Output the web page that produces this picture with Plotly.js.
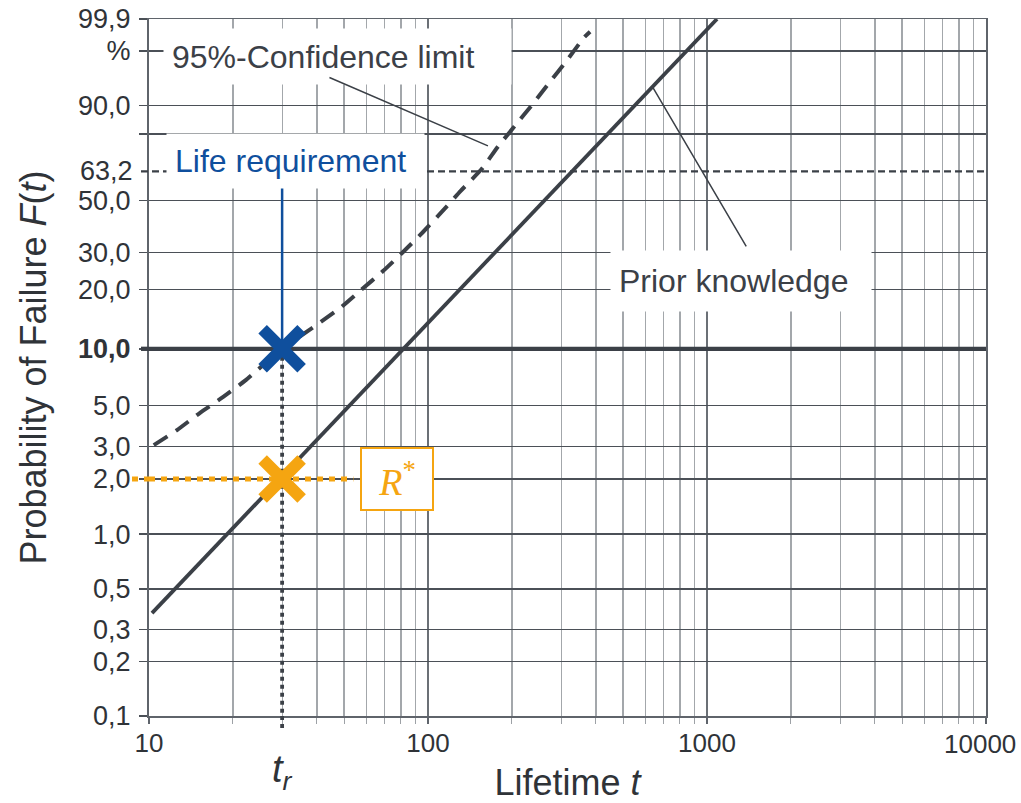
<!DOCTYPE html>
<html>
<head>
<meta charset="utf-8">
<script src="https://cdn.plot.ly/plotly-3.0.1.min.js"></script>
<style>
  html, body { margin: 0; padding: 0; background: #ffffff; }
  #chart { width: 1021px; height: 803px; }
</style>
</head>
<body>
<div id="chart"></div>
<script>
// Weibull probability paper: y axis is ln(-ln(1-F)), x axis is logarithmic lifetime.

// ---- values ----
const gridPct    = [99.9, 99, 90, 80, 50, 30, 20, 10, 5, 3, 2, 1, 0.5, 0.3, 0.2, 0.1];
const gridLabels = ['99,9', '%', '90,0', '', '50,0', '30,0', '20,0', '<b>10,0</b>',
                    '5,0', '3,0', '2,0', '1,0', '0,5', '0,3', '0,2', '0,1'];
const charLifePct = 63.2;
const charLifeLabel = '63,2';

const xMajor       = [10, 100, 1000, 10000];
const xMajorLabels = ['10', '100', '1000', ''];
const xEndLabel    = '10000';   // last decade label, kept inside the page edge
const xMinor = [20, 30, 40, 50, 60, 70, 80, 90,
                200, 300, 400, 500, 600, 700, 800, 900,
                2000, 3000, 4000, 5000, 6000, 7000, 8000, 9000];

// prior knowledge (straight Weibull line)
const priorT = [10.25, 1086];
const priorF = [0.368, 99.9];

// 95% confidence limit
const confT = [10.4, 12.6, 15.2, 18.4, 22.1, 30, 38.4, 48.4, 57.5, 69.0, 81.4, 96.0,
               112, 131, 156, 178, 205, 236, 274, 312, 362, 381];
const confF = [3.06, 3.69, 4.56, 5.55, 6.8, 10, 12.8, 16.2, 19.9, 24.6, 30.2, 37.1,
               45.0, 54.2, 64.4, 74.5, 83.2, 90.2, 95.6, 98.2, 99.57, 99.72];

// life requirement and reliability target
const lifeT = 30;      // t_r
const lifeReqF = 10;   // required F at t_r
const rStarF = 2;      // R* level
const rStarEndT = 54;

// ---- helpers ----
const W = p => Math.log(-Math.log(1 - p / 100));
const yMin = W(0.1), yMax = W(99.9);
const yPaper = p => (W(p) - yMin) / (yMax - yMin);
const xPaper = t => (Math.log10(t) - 1) / 3;

const FONT = 'Liberation Sans, Arial, Helvetica, sans-serif';
const DARK = '#3b4047';
const TEXT = '#2f3338';
const BLUE = '#0f4f9d';
const ORANGE = '#f5a511';
const PLOT_W = 837;
const PLOT_H = 697;

const traces = [
  { // 10 % requirement level
    x: [10, 10000], y: [W(lifeReqF), W(lifeReqF)],
    mode: 'lines', line: { color: DARK, width: 4.3 }, hoverinfo: 'skip'
  },
  { // prior knowledge
    x: priorT, y: priorF.map(W),
    mode: 'lines', line: { color: DARK, width: 3.8 }, hoverinfo: 'skip'
  },
  { // confidence limit
    x: confT, y: confF.map(W),
    mode: 'lines', line: { color: DARK, width: 4, dash: '16px,10px', shape: 'spline', smoothing: 0.5 },
    hoverinfo: 'skip'
  },
  { // t_r drop line
    x: [lifeT, lifeT], y: [W(lifeReqF), W(0.1)],
    mode: 'lines', line: { color: DARK, width: 3.8, dash: '4px,4px' }, hoverinfo: 'skip'
  },
  { // R* level
    x: [10, rStarEndT], y: [W(rStarF), W(rStarF)],
    mode: 'lines', line: { color: ORANGE, width: 5, dash: '6px,6px' }, hoverinfo: 'skip'
  },
  { // leader from the life requirement label
    x: [lifeT, lifeT], y: [W(60), W(lifeReqF)],
    mode: 'lines', line: { color: BLUE, width: 2.5 }, hoverinfo: 'skip'
  },
  {
    x: [lifeT], y: [W(lifeReqF)], mode: 'markers',
    marker: { symbol: 'x-thin', size: 39, line: { color: BLUE, width: 12 } }, hoverinfo: 'skip'
  },
  {
    x: [lifeT], y: [W(rStarF)], mode: 'markers',
    marker: { symbol: 'x-thin', size: 39, line: { color: ORANGE, width: 12 } }, hoverinfo: 'skip'
  }
];

const stub = 8 / PLOT_W;

const shapes = [
  { type: 'line', xref: 'paper', yref: 'paper', layer: 'above',
    x0: -stub, x1: 0, y0: yPaper(lifeReqF), y1: yPaper(lifeReqF),
    line: { color: DARK, width: 4.3 } },
  { type: 'line', xref: 'paper', yref: 'paper', layer: 'above',
    x0: -stub, x1: 1, y0: yPaper(charLifePct), y1: yPaper(charLifePct),
    line: { color: DARK, width: 2.2, dash: '7px,4px' } },
  { type: 'line', xref: 'paper', yref: 'paper', layer: 'above',
    x0: -17 / PLOT_W, x1: 0, y0: yPaper(rStarF), y1: yPaper(rStarF),
    line: { color: ORANGE, width: 5, dash: '6px,6px' } },
  { type: 'line', xref: 'paper', yref: 'paper', layer: 'above',
    x0: xPaper(lifeT), x1: xPaper(lifeT), y0: 0, y1: -14 / PLOT_H,
    line: { color: DARK, width: 3.8, dash: '4px,4px' } }
];

const annotations = [
  { // label boxes
    xref: 'paper', yref: 'paper', x: 14 / PLOT_W, y: 1 - 9 / PLOT_H, xanchor: 'left', yanchor: 'top',
    text: '95%-Confidence limit', showarrow: false, align: 'left',
    width: 331, height: 39, borderpad: 8, bgcolor: '#ffffff',
    font: { family: FONT, size: 32, color: DARK }
  },
  {
    xref: 'paper', yref: 'paper', x: 17 / PLOT_W, y: 1 - 114 / PLOT_H, xanchor: 'left', yanchor: 'top',
    text: 'Life requirement', showarrow: false, align: 'left',
    width: 241, height: 38, borderpad: 8, bgcolor: '#ffffff',
    font: { family: FONT, size: 32, color: BLUE }
  },
  {
    xref: 'paper', yref: 'paper', x: 461 / PLOT_W, y: 1 - 231 / PLOT_H, xanchor: 'left', yanchor: 'top',
    text: 'Prior knowledge', showarrow: false, align: 'left',
    width: 244, height: 44, borderpad: 8, bgcolor: '#ffffff',
    font: { family: FONT, size: 32, color: DARK }
  },
  { // leader lines
    xref: 'x', yref: 'y', x: Math.log10(164), y: W(74.9),
    ax: -160, ay: -69, text: '', showarrow: true, arrowhead: 0, arrowwidth: 1.5,
    arrowcolor: DARK, standoff: 0
  },
  {
    xref: 'x', yref: 'y', x: Math.log10(641), y: W(94.4),
    ax: 94, ay: 160, text: '', showarrow: true, arrowhead: 0, arrowwidth: 1.5,
    arrowcolor: DARK, standoff: 0
  },
  { // R* box
    xref: 'paper', yref: 'y', x: 211 / PLOT_W, y: W(rStarF), xanchor: 'left', yanchor: 'middle',
    text: '<i>R</i><sup>*</sup>', showarrow: false,
    width: 70, height: 60, borderpad: 0, borderwidth: 2, bordercolor: ORANGE, bgcolor: '#ffffff',
    font: { family: 'Liberation Serif, Times New Roman, serif', size: 38, color: ORANGE }
  },
  { // 63,2 tick label
    xref: 'paper', yref: 'paper', x: -14 / PLOT_W, y: yPaper(charLifePct),
    xanchor: 'right', yanchor: 'middle', showarrow: false,
    text: charLifeLabel, font: { family: FONT, size: 27, color: TEXT }
  },
  { // last decade label on the x axis
    xref: 'paper', yref: 'paper', x: 1 + 31 / PLOT_W, y: -28 / PLOT_H,
    xanchor: 'right', yanchor: 'middle', showarrow: false, borderpad: 0,
    text: xEndLabel, font: { family: FONT, size: 26, color: TEXT }
  },
  { // t_r
    xref: 'paper', yref: 'paper', x: xPaper(lifeT), y: -56 / PLOT_H,
    xanchor: 'center', yanchor: 'middle', showarrow: false,
    text: '<i>t</i><sub><i>r</i></sub>', font: { family: FONT, size: 38, color: TEXT }
  }
];

const layout = {
  width: 1021, height: 803,
  margin: { l: 149, r: 35, t: 19, b: 87 },
  paper_bgcolor: '#ffffff', plot_bgcolor: '#ffffff',
  showlegend: false,
  font: { family: FONT, color: TEXT },
  xaxis: {
    type: 'log', range: [1, 4],
    tickmode: 'array', tickvals: xMajor, ticktext: xMajorLabels,
    ticks: 'outside', ticklen: 6, tickwidth: 1.5, tickcolor: '#5f646b',
    ticklabelstandoff: -3,
    showgrid: true, gridcolor: '#6b7076', gridwidth: 1.5,
    minor: {
      tickmode: 'array', tickvals: xMinor,
      ticks: 'outside', ticklen: 6, tickwidth: 1, tickcolor: '#9da1a6',
      showgrid: true, gridcolor: '#a3a7ab', gridwidth: 1.1
    },
    showline: true, linecolor: '#5f646b', linewidth: 1.5, mirror: true,
    zeroline: false, fixedrange: true,
    tickfont: { family: FONT, size: 26, color: TEXT },
    title: { text: 'Lifetime <i>t</i>', font: { family: FONT, size: 36, color: TEXT }, standoff: 14 }
  },
  yaxis: {
    range: [yMin, yMax],
    tickmode: 'array', tickvals: gridPct.map(W), ticktext: gridLabels,
    ticks: 'outside', ticklen: 8, tickwidth: 1.5, tickcolor: '#4b5057',
    ticklabelstandoff: 3,
    showgrid: true, gridcolor: '#4b5057', gridwidth: 1.3,
    showline: true, linecolor: '#5f646b', linewidth: 2, mirror: true,
    zeroline: false, fixedrange: true,
    tickfont: { family: FONT, size: 27, color: TEXT },
    title: { text: 'Probability of Failure <i>F</i>(<i>t</i>)', font: { family: FONT, size: 36, color: TEXT }, standoff: 20 }
  },
  shapes: shapes,
  annotations: annotations
};

Plotly.newPlot('chart', traces, layout, { displayModeBar: false, staticPlot: true });
</script>
</body>
</html>
